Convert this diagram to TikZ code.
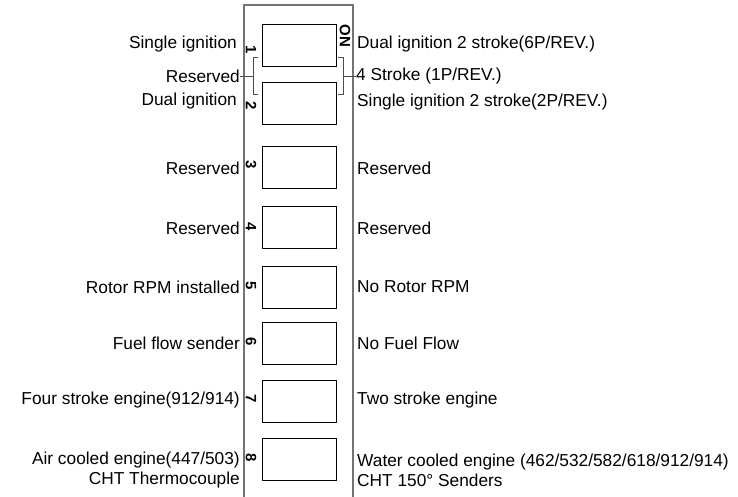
\documentclass[tikz,border=0pt]{standalone}
\usepackage{fontspec}
\setmainfont{Liberation Sans}
\begin{document}
\begin{tikzpicture}[x=1pt,y=-1pt,
  lbl/.style={font=\fontsize{17.3}{20}\selectfont, inner sep=0pt, align=left},
  lblL/.style={lbl, anchor=east, align=right},
  lblR/.style={lbl, anchor=west},
  swbox/.style={draw=black, line width=0.9pt, anchor=north west, minimum width=74pt, minimum height=42pt, inner sep=0pt},
  num/.style={font=\bfseries\fontsize{15}{15}\selectfont, rotate=-90, inner sep=0pt},
  panel/.style={draw=black!55, line width=1.1pt},
  brk/.style={draw=black!70, line width=0.9pt}]
\useasboundingbox (0,0) rectangle (738,497);
% panel
\draw[panel] (244,497) -- (244,5) -- (353,5) -- (353,497);
% switch boxes
\node[swbox] (s1) at (262,24) {};
\node[swbox] (s2) at (262,82) {};
\node[swbox] (s3) at (262,146) {};
\node[swbox] (s4) at (262,206) {};
\node[swbox] (s5) at (262,266) {};
\node[swbox] (s6) at (262,322) {};
\node[swbox] (s7) at (262,380) {};
\node[swbox] (s8) at (262,438) {};
% numbers
\node[num] (n1) at (251,50) {1};
\node[num] (n2) at (251,106) {2};
\node[num] (n3) at (251,165) {3};
\node[num] (n4) at (251,227) {4};
\node[num] (n5) at (251,286) {5};
\node[num] (n6) at (251,342) {6};
\node[num] (n7) at (251,399) {7};
\node[num] (n8) at (251,458) {8};
\node[num] (on) at (345,36) {ON};
% left labels
\node[lblL] (l1) at (237,44) {Single ignition};
\node[lblL] (lr) at (240,76) {Reserved};
\node[lblL] (l2) at (237,101) {Dual ignition};
\node[lblL] (l3) at (240,168) {Reserved};
\node[lblL] (l4) at (240,228) {Reserved};
\node[lblL] (l5) at (240,287) {Rotor RPM installed};
\node[lblL] (l6) at (240,343) {Fuel flow sender};
\node[lblL] (l7) at (240,400) {Four stroke engine(912/914)};
\node[lblL] (l8) at (240,470) {Air cooled engine(447/503)\\CHT Thermocouple};
% right labels
\node[lblR] (r1) at (357,44) {Dual ignition 2 stroke(6P/REV.)};
\node[lblR] (rr) at (356,76) {4 Stroke (1P/REV.)};
\node[lblR] (r2) at (357,102) {Single ignition 2 stroke(2P/REV.)};
\node[lblR] (r3) at (357,168) {Reserved};
\node[lblR] (r4) at (357,228) {Reserved};
\node[lblR] (r5) at (357,287) {No Rotor RPM};
\node[lblR] (r6) at (357,343) {No Fuel Flow};
\node[lblR] (r7) at (357,400) {Two stroke engine};
\node[lblR] (r8) at (357,470) {Water cooled engine (462/532/582/618/912/914)\\CHT 150° Senders};
% brackets
\coordinate (bl) at (253,76);
\coordinate (br) at (343,76);
\draw[brk] (258,57) -- (253,57) -- (253,94) -- (258,94);
\draw[brk] (lr.east) -- (bl);
\draw[brk] (338,57) -- (343,57) -- (343,94) -- (338,94);
\draw[brk] (br) -- (rr.west);
\end{tikzpicture}
\end{document}
